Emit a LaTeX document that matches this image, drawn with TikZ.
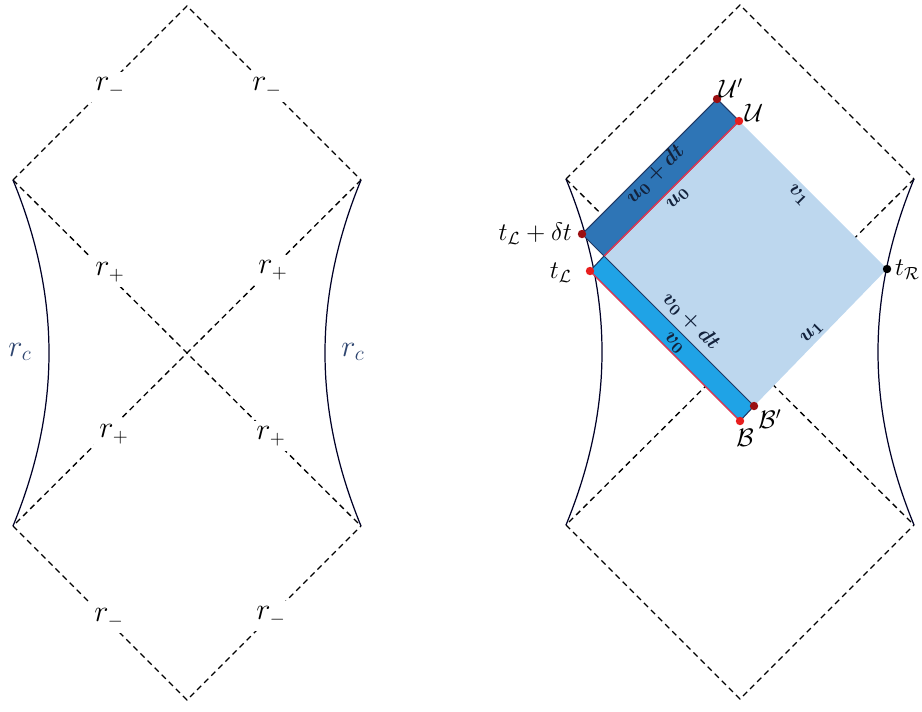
\documentclass[tikz,border=0pt]{standalone}
\usepackage{amsmath,bm}
\definecolor{skyfill}{HTML}{BDD7EE}
\definecolor{stripdark}{HTML}{2E75B6}
\definecolor{stripcyan}{HTML}{1FA3E6}
\definecolor{edgenavy}{HTML}{1F3864}
\definecolor{edgered}{HTML}{E8364F}
\definecolor{dotred}{HTML}{E81E1E}
\definecolor{dotdark}{HTML}{9B0F12}
\definecolor{rclabel}{HTML}{2F4670}

% Rahmen eines Penrose-Diagramms, Ursprung im Mittelpunkt
\def\penroseframe{%
  \coordinate (top) at (0,-347);
  \coordinate (lc)  at (-174,-173);
  \coordinate (rc)  at (174,-173);
  \coordinate (llc) at (-174,173);
  \coordinate (lrc) at (174,173);
  \coordinate (bot) at (0,347);
  \draw[horizon] (lc) -- (top) -- (rc);
  \draw[horizon] (lc) -- (lrc);
  \draw[horizon] (rc) -- (llc);
  \draw[horizon] (llc) -- (bot) -- (lrc);
  \draw[wall] (lc) .. controls +(48,117) and +(48,-117) .. (llc);
  \draw[wall] (rc) .. controls +(-48,117) and +(-48,-117) .. (lrc);
}

\begin{document}
\begin{tikzpicture}[x=0.02cm,y=-0.02cm,
    horizon/.style={dash pattern=on 3.3pt off 2.4pt,line width=0.75pt},
    wall/.style={line width=0.7pt,black!85!blue},
    rlabel/.style={fill=white,inner sep=3pt,font=\fontsize{16}{18}\selectfont},
    rclab/.style={text=rclabel,font=\fontsize{17}{19}\selectfont},
    bulk/.style={fill=skyfill},
    uband/.style={fill=stripdark,draw=edgenavy,line width=0.6pt},
    vband/.style={fill=stripcyan,draw=edgenavy,line width=0.6pt},
    rayline/.style={draw=edgered,line width=0.8pt},
    pt/.style={circle,fill=dotred,inner sep=0pt,minimum size=4.8pt},
    ptdark/.style={pt,fill=dotdark},
    ptlab/.style={font=\fontsize{14}{16}\selectfont,inner sep=1pt},
    seg/.style={font=\fontsize{13}{15}\selectfont,text=edgenavy!60!black,inner sep=0pt}]
\useasboundingbox (0,0) rectangle (922,711);
%
% ============ LINKS: Diagramm mit Horizonten ============
\begin{scope}[shift={(187,353)}]
  \penroseframe
  % innere Horizonte
  \node[rlabel] (rmUL) at (-77,-266) {$r_-$};
  \node[rlabel] (rmUR) at (80,-266) {$r_-$};
  \node[rlabel] (rmLL) at (-78,265) {$r_-$};
  \node[rlabel] (rmLR) at (84,263) {$r_-$};
  % aeussere Horizonte
  \node[rlabel] (rpUL) at (-77,-81) {$r_+$};
  \node[rlabel] (rpUR) at (86,-83) {$r_+$};
  \node[rlabel] (rpLL) at (-73,81) {$r_+$};
  \node[rlabel] (rpLR) at (84,83) {$r_+$};
  % kosmologischer Horizont
  \node[rclab] (rcL) at (-167,-1) {$r_c$};
  \node[rclab] (rcR) at (166,-1) {$r_c$};
\end{scope}
%
% ============ RECHTS: Gebiet zwischen den Schnitten ============
\begin{scope}[shift={(740,352)}]
  \penroseframe
\end{scope}
% Eckpunkte
\coordinate (cP)   at (604,256);
\coordinate (cU)   at (739,121);
\coordinate (cUp)  at (717,99);
\coordinate (cLdT) at (582,234);
\coordinate (cL)   at (590,271);
\coordinate (cB)   at (740,421);
\coordinate (cBp)  at (754,406);
\coordinate (cR)   at (887,269);
% Flaechen
\fill[bulk] (cP) -- (cU) -- (cR) -- (cBp) -- cycle;
\filldraw[uband] (cLdT) -- (cUp) -- (cU) -- (cP) -- cycle;
\filldraw[vband] (cL) -- (cP) -- (cBp) -- (cB) -- cycle;
\draw[rayline] (cP) -- (cU);
\draw[rayline] (cL) -- (cB);
% Punkte
\node[pt] (U) at (cU) {};
\node[ptdark] (Up) at (cUp) {};
\node[ptdark] (LdT) at (cLdT) {};
\node[pt] (L) at (cL) {};
\node[pt] (B) at (cB) {};
\node[ptdark] (Bp) at (cBp) {};
\node[pt,fill=black] (R) at (cR) {};
% Beschriftungen der Punkte
\node[ptlab] (labUp) at (731,88) {$\mathcal{U}'$};
\node[ptlab] (labU) at (754,113) {$\mathcal{U}$};
\node[ptlab,anchor=east] (labLdT) at (574,234) {$t_{\mathcal{L}}+\delta t$};
\node[ptlab,anchor=east] (labL) at (574,273) {$t_{\mathcal{L}}$};
\node[ptlab,anchor=west] (labR) at (893,270) {$t_{\mathcal{R}}$};
\node[ptlab] (labBp) at (770,419) {$\mathcal{B}'$};
\node[ptlab] (labB) at (745,438) {$\mathcal{B}$};
% Beschriftungen der Strahlen
\node[seg,rotate=45] (su0dt) at (655,174) {$\bm{u_0+dt}$};
\node[seg,rotate=45] (su0) at (678,199) {$\bm{u_0}$};
\node[seg,rotate=-45] (sv1) at (798,195) {$\bm{v_1}$};
\node[seg,rotate=45] (su1) at (812,333) {$\bm{u_1}$};
\node[seg,rotate=-45] (sv0dt) at (691,321) {$\bm{v_0+dt}$};
\node[seg,rotate=-45] (sv0) at (674,343) {$\bm{v_0}$};
%
\end{tikzpicture}
\end{document}
